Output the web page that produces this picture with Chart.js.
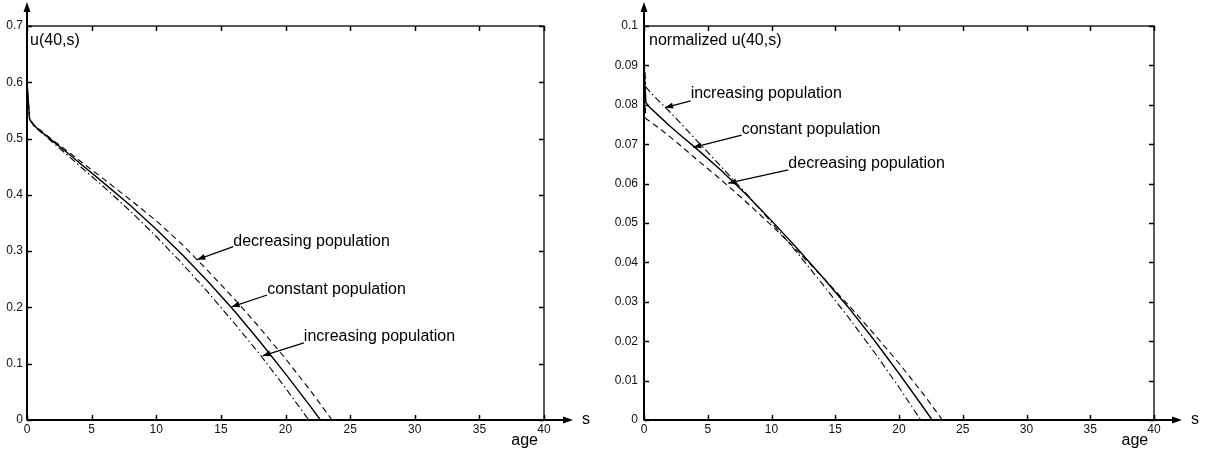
<!DOCTYPE html>
<html>
<head>
<meta charset="utf-8">
<script src="https://cdn.jsdelivr.net/npm/chart.js@4"></script>
<style>
html, body { margin: 0; padding: 0; background: #fff; }
#wrap { position: relative; width: 1209px; height: 457px; }
.box { position: absolute; top: 0; height: 457px; }
</style>
</head>
<body>
<div id="wrap">
  <div class="box" style="left:0;width:604px"><canvas id="left"></canvas></div>
  <div class="box" style="left:604px;width:605px"><canvas id="right"></canvas></div>
</div>
<script>
// left panel: u(40,s)
const ageConst = [0, 0.2, 0.5, 1, 2, 3, 4, 6, 8, 10, 12, 14, 16, 18, 20, 22, 22.7];
const uConst = [0.6, 0.535, 0.524, 0.514, 0.4955, 0.477, 0.458, 0.42, 0.381, 0.339, 0.294, 0.246, 0.195, 0.14, 0.082, 0.022, 0];
const ageDec = [0, 0.2, 0.5, 1, 2, 3, 4, 6, 8, 10, 12, 14, 16, 18, 20, 22, 23.6];
const uDec = [0.6, 0.536, 0.525, 0.516, 0.497, 0.48, 0.462, 0.427, 0.391, 0.354, 0.312, 0.265, 0.216, 0.164, 0.109, 0.05, 0];
const ageInc = [0, 0.2, 0.5, 1, 2, 3, 4, 6, 8, 10, 12, 14, 16, 18, 20, 21.8];
const uInc = [0.59, 0.534, 0.523, 0.513, 0.493, 0.473, 0.453, 0.413, 0.371, 0.326, 0.278, 0.227, 0.173, 0.117, 0.057, 0];

// right panel: normalized u(40,s)
const ageConstN = [0, 0.15, 0.5, 1, 2, 3, 4, 6, 8, 10, 12, 14, 16, 18, 20, 22, 22.6];
const nConst = [0.09, 0.0805, 0.0792, 0.0777, 0.0747, 0.0719, 0.0692, 0.0635, 0.0573, 0.0506, 0.0436, 0.0363, 0.0287, 0.0205, 0.0118, 0.0028, 0];
const ageIncN = [0, 0.15, 0.5, 1, 2, 3, 4, 6, 8, 10, 12, 14, 16, 18, 20, 21.7];
const nInc = [0.092, 0.0845, 0.0832, 0.0815, 0.0783, 0.0749, 0.0714, 0.0645, 0.0575, 0.0502, 0.0425, 0.0345, 0.0262, 0.0175, 0.0083, 0];
const ageDecN = [0, 0.15, 0.5, 1, 2, 3, 4, 6, 8, 10, 12, 14, 16, 18, 20, 22, 23.4];
const nDec = [0.087, 0.0765, 0.0757, 0.0745, 0.072, 0.0693, 0.0665, 0.0611, 0.0554, 0.0494, 0.043, 0.0363, 0.0293, 0.022, 0.0144, 0.0062, 0];

const FONT = "'Liberation Sans', Arial, Helvetica, sans-serif";

function pts(xs, ys) {
  return xs.map((x, i) => ({ x: x, y: ys[i] }));
}

function line(ctx, x1, y1, x2, y2) {
  ctx.beginPath();
  ctx.moveTo(x1, y1);
  ctx.lineTo(x2, y2);
  ctx.stroke();
}

function head(ctx, fx, fy, tx, ty, len, w) {
  const ang = Math.atan2(ty - fy, tx - fx);
  ctx.beginPath();
  ctx.moveTo(tx, ty);
  ctx.lineTo(tx - len * Math.cos(ang) + w * Math.sin(ang), ty - len * Math.sin(ang) - w * Math.cos(ang));
  ctx.lineTo(tx - len * Math.cos(ang) - w * Math.sin(ang), ty - len * Math.sin(ang) + w * Math.cos(ang));
  ctx.closePath();
  ctx.fill();
}

// box, inside ticks, axis arrows, labels and notes
const deco = {
  id: "deco",
  afterDraw(chart, args, o) {
    const { ctx, chartArea: a, scales } = chart;
    const x = scales.x, y = scales.y;
    ctx.save();
    ctx.strokeStyle = "#000";
    ctx.fillStyle = "#000";

    ctx.lineWidth = 1.3;
    ctx.strokeRect(a.left, a.top, a.right - a.left, a.bottom - a.top);

    ctx.lineWidth = 1.5;
    x.ticks.forEach((t) => {
      const px = Math.round(x.getPixelForValue(t.value)) + 0.5;
      line(ctx, px, a.bottom, px, a.bottom - 5);
      line(ctx, px, a.top, px, a.top + 5);
    });
    y.ticks.forEach((t) => {
      const py = Math.round(y.getPixelForValue(t.value)) + 0.5;
      line(ctx, a.left, py, a.left + 5, py);
      line(ctx, a.right, py, a.right - 5, py);
    });

    // axes with arrows
    ctx.lineWidth = 2;
    line(ctx, a.left, a.bottom, a.right + o.arrowX - 6, a.bottom);
    line(ctx, a.left, a.bottom, a.left, 9);
    head(ctx, a.left, a.bottom, a.right + o.arrowX, a.bottom, 10, 3.5);
    head(ctx, a.left, a.bottom, a.left, 2, 10, 3.5);

    ctx.font = "16px " + FONT;
    ctx.textBaseline = "middle";
    ctx.textAlign = "left";
    ctx.fillText(o.title, a.left + o.titleDx, a.top + 15);
    ctx.fillText("s", a.right + o.arrowX + 9, a.bottom);
    ctx.textAlign = "center";
    ctx.fillText("age", x.getPixelForValue(38.5), a.bottom + 21);

    ctx.textAlign = "left";
    ctx.lineWidth = 1.2;
    o.notes.forEach((n) => {
      const tx = x.getPixelForValue(n.tip[0]), ty = y.getPixelForValue(n.tip[1]);
      const fx = x.getPixelForValue(n.from[0]), fy = y.getPixelForValue(n.from[1]);
      line(ctx, fx, fy, tx, ty);
      head(ctx, fx, fy, tx, ty, 8, 3);
      ctx.fillText(n.text, fx, y.getPixelForValue(n.textY));
    });
    ctx.restore();
  },
};

function makeChart(id, series, ymax, ystep, opts) {
  const styles = [
    { dash: [], w: 1.4 },
    { dash: [6, 4], w: 1.1 },
    { dash: [7, 3, 1.5, 3], w: 1.1 },
  ];
  new Chart(document.getElementById(id), {
    type: "line",
    data: {
      datasets: series.map((d, i) => ({
        data: d,
        borderColor: "#000",
        borderWidth: styles[i].w,
        borderDash: styles[i].dash,
        pointRadius: 0,
        fill: false,
        tension: 0,
      })),
    },
    options: {
      responsive: true,
      maintainAspectRatio: false,
      animation: false,
      layout: { padding: { top: 26, right: opts.padRight, left: 0, bottom: 0 } },
      plugins: {
        legend: { display: false },
        tooltip: { enabled: false },
        deco: opts,
      },
      scales: {
        x: {
          type: "linear",
          min: 0,
          max: 40,
          grid: { display: false, drawTicks: false },
          border: { display: false },
          ticks: { stepSize: 5, padding: 2, color: "#111", font: { family: FONT, size: 12 }, maxRotation: 0 },
          afterFit: (s) => { s.height = 37; },
        },
        y: {
          min: 0,
          max: ymax,
          grid: { display: false, drawTicks: false },
          border: { display: false },
          ticks: {
            stepSize: ystep,
            padding: opts.yPad,
            color: "#111",
            font: { family: FONT, size: 12 },
            callback: (v) => String(Number(v.toFixed(3))),
          },
          afterFit: (s) => { s.width = opts.yWidth; },
        },
      },
    },
    plugins: [deco],
  });
}

makeChart("left", [pts(ageConst, uConst), pts(ageDec, uDec), pts(ageInc, uInc)], 0.7, 0.1, {
  padRight: 60, yWidth: 27, yPad: 4, arrowX: 29, title: "u(40,s)", titleDx: 3,
  notes: [
    { text: "decreasing population", tip: [13.17, 0.285], from: [15.96, 0.308], textY: 0.317 },
    { text: "constant population", tip: [15.83, 0.201], from: [18.58, 0.222], textY: 0.231 },
    { text: "increasing population", tip: [18.23, 0.114], from: [21.42, 0.137], textY: 0.149 },
  ],
});

makeChart("right", [pts(ageConstN, nConst), pts(ageDecN, nDec), pts(ageIncN, nInc)], 0.1, 0.01, {
  padRight: 55, yWidth: 40, yPad: 6, arrowX: 28, title: "normalized u(40,s)", titleDx: 5,
  notes: [
    { text: "increasing population", tip: [1.65, 0.0793], from: [3.66, 0.081], textY: 0.0829 },
    { text: "constant population", tip: [3.87, 0.0692], from: [7.66, 0.0723], textY: 0.0738 },
    { text: "decreasing population", tip: [6.61, 0.0601], from: [11.32, 0.0635], textY: 0.065 },
  ],
});
</script>
</body>
</html>
